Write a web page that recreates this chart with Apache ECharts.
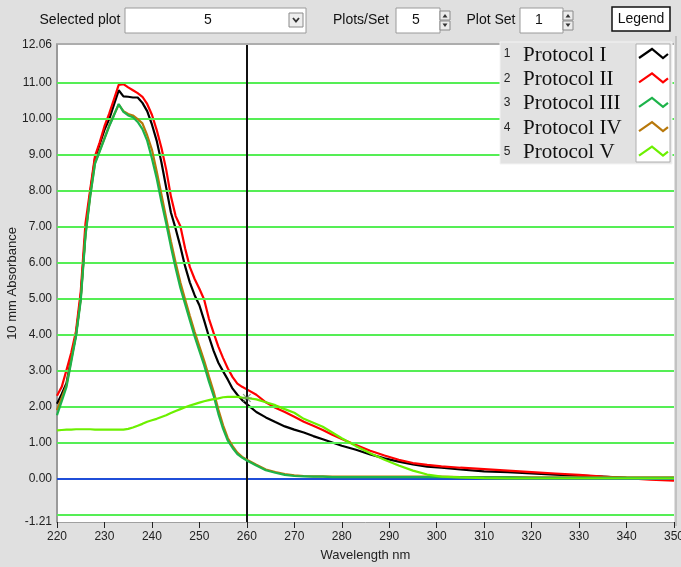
<!DOCTYPE html>
<html><head><meta charset="utf-8">
<script src="https://cdn.jsdelivr.net/npm/echarts@6/dist/echarts.min.js"></script>
<style>html,body{margin:0;padding:0;background:#e0e0e0}#c{width:681px;height:567px}</style>
</head><body><div id="c"></div>
<script>
// ---------- data ----------
const wavelengths = [220,221,222,223,224,225,226,227,228,229,
  230,231,232,233,234,235,236,237,238,239,
  240,241,242,243,244,245,246,247,248,249,
  250,251,252,253,254,255,256,257,258,259,
  260,262,264,266,268,270,272,274,276,278,
  280,283,286,289,292,295,298,301,305,310,
  315,320,325,330,335,340,345,350];

const protocolI = [2.08,2.35,2.65,3.35,4.00,5.05,6.85,7.95,8.90,9.30,
  9.70,10.00,10.40,10.80,10.63,10.62,10.60,10.60,10.45,10.22,
  9.85,9.40,8.80,8.10,7.40,6.95,6.45,5.90,5.45,5.10,
  4.82,4.40,3.95,3.55,3.22,2.98,2.75,2.50,2.33,2.18,
  2.07,1.85,1.70,1.57,1.45,1.36,1.28,1.18,1.09,1.00,
  0.91,0.80,0.67,0.56,0.47,0.39,0.33,0.30,0.25,0.20,
  0.18,0.14,0.11,0.08,0.05,0.02,0.00,-0.04];

const protocolII = [2.30,2.55,3.02,3.50,4.10,5.20,7.10,8.04,8.97,9.35,
  9.80,10.15,10.55,10.95,10.97,10.88,10.80,10.72,10.62,10.42,
  10.12,9.70,9.20,8.60,7.85,7.30,7.02,6.40,5.88,5.55,
  5.28,4.98,4.45,4.05,3.67,3.35,3.06,2.82,2.64,2.55,
  2.48,2.33,2.12,1.97,1.85,1.72,1.58,1.47,1.35,1.22,
  1.10,0.93,0.77,0.64,0.52,0.43,0.38,0.34,0.30,0.26,
  0.22,0.18,0.14,0.10,0.05,0.01,-0.03,-0.06];

const protocolIII = [1.76,2.15,2.55,3.25,3.95,4.95,6.75,7.85,8.75,9.10,
  9.45,9.80,10.10,10.42,10.20,10.10,10.05,9.92,9.72,9.40,
  8.90,8.35,7.70,7.10,6.45,5.85,5.30,4.85,4.40,3.95,
  3.55,3.15,2.70,2.30,1.80,1.38,1.05,0.85,0.68,0.58,
  0.50,0.36,0.23,0.16,0.10,0.07,0.06,0.05,0.05,0.04,
  0.04,0.04,0.04,0.04,0.04,0.04,0.04,0.04,0.03,0.03,
  0.03,0.02,0.02,0.02,0.02,0.02,0.02,0.02];

const protocolIV = [1.90,2.25,2.60,3.30,4.00,5.00,6.80,7.88,8.78,9.12,
  9.47,9.82,10.12,10.40,10.22,10.14,10.10,10.00,9.88,9.55,
  9.15,8.55,7.90,7.25,6.60,6.00,5.45,4.98,4.52,4.08,
  3.68,3.28,2.84,2.42,1.92,1.48,1.12,0.90,0.72,0.60,
  0.52,0.38,0.25,0.18,0.12,0.09,0.07,0.06,0.06,0.05,
  0.05,0.05,0.05,0.05,0.05,0.05,0.05,0.05,0.04,0.04,
  0.04,0.03,0.03,0.03,0.03,0.03,0.03,0.03];

const protocolV = [1.34,1.35,1.36,1.36,1.37,1.37,1.37,1.37,1.36,1.36,
  1.36,1.36,1.36,1.36,1.36,1.38,1.42,1.47,1.52,1.58,
  1.62,1.66,1.71,1.76,1.82,1.88,1.93,1.98,2.03,2.07,
  2.11,2.15,2.18,2.21,2.23,2.26,2.27,2.27,2.27,2.25,
  2.24,2.20,2.12,2.04,1.93,1.83,1.66,1.55,1.44,1.28,
  1.12,0.90,0.70,0.52,0.36,0.22,0.11,0.05,0.03,0.01,
  0.00,0.00,0.00,0.00,0.00,0.00,0.00,0.00];

const seriesNames = ['Protocol I','Protocol II','Protocol III','Protocol IV','Protocol V'];
const seriesValues = [protocolI, protocolII, protocolIII, protocolIV, protocolV];
const seriesColors = ['#000000','#ff0000','#1db34a','#b8780a','#6cf000'];
const yTickValues = [-1.21,0,1,2,3,4,5,6,7,8,9,10,11,12.06];
const gridValues = [-1,1,2,3,4,5,6,7,8,9,10,11];
const yMin = -1.21, yMax = 12.06;
const xMin = 220, xMax = 350, xStep = 10;
const markerWavelength = 260;
const cursorPoint = [260, 2.24];

// ---------- chart ----------
const chart = echarts.init(document.getElementById('c'), null, {renderer:'canvas'});
const font = 'Liberation Sans, Arial, sans-serif';

const lineSeries = seriesNames.map((n,i)=>({
  name:n, type:'line', showSymbol:false, silent:true, animation:false,
  z: [3,4,6,5,7][i],
  lineStyle:{color:seriesColors[i], width:2.2},
  itemStyle:{color:seriesColors[i]},
  data: wavelengths.map((w,k)=>[w, seriesValues[i][k]])
}));

// legend drawn as graphic
const legendTop = 42, rowH = 24.4, firstRow = 54;
const legendEls = [
  {type:'rect', shape:{x:500,y:legendTop,width:172,height:122}, style:{fill:'#e2e2e2',stroke:'#f4f4f4',lineWidth:1}, z:100},
  {type:'rect', shape:{x:636,y:legendTop+2,width:34,height:118}, style:{fill:'#ffffff',stroke:'#b0b0b0',lineWidth:1}, z:101}
];
seriesNames.forEach((n,i)=>{
  const cy = firstRow + i*rowH;
  legendEls.push({type:'text', x:507, y:cy, style:{text:String(i+1), fill:'#222', font:'12px '+font, align:'center', verticalAlign:'middle'}, z:102});
  legendEls.push({type:'text', x:523, y:cy+1, style:{text:n, fill:'#111', font:'21px "Liberation Serif", "Times New Roman", serif', align:'left', verticalAlign:'middle'}, z:102});
  legendEls.push({type:'polyline', shape:{points:[[639,cy+4],[652,cy-5],[663,cy+4],[668,cy]]}, style:{stroke:seriesColors[i], lineWidth:2.2, fill:null}, z:102});
});

// toolbar
function spinner(x,y){
  return [
    {type:'rect', shape:{x:x,y:y,width:10,height:9}, style:{fill:'#ececec',stroke:'#8a8a8a',lineWidth:1}, z:100},
    {type:'polygon', shape:{points:[[x+2.5,y+6.5],[x+5,y+3],[x+7.5,y+6.5]]}, style:{fill:'#333'}, z:101},
    {type:'rect', shape:{x:x,y:y+10,width:10,height:9}, style:{fill:'#ececec',stroke:'#8a8a8a',lineWidth:1}, z:100},
    {type:'polygon', shape:{points:[[x+2.5,y+12.5],[x+5,y+16],[x+7.5,y+12.5]]}, style:{fill:'#333'}, z:101}
  ];
}
const tbFont = '14px '+font;
const toolbar = [
  {type:'text', x:80, y:20, style:{text:'Selected plot', fill:'#111', font:tbFont, align:'center', verticalAlign:'middle'}},
  {type:'rect', shape:{x:125,y:8,width:181,height:25}, style:{fill:'#fff',stroke:'#9a9a9a',lineWidth:1}},
  {type:'text', x:208, y:20, style:{text:'5', fill:'#111', font:tbFont, align:'center', verticalAlign:'middle'}},
  {type:'rect', shape:{x:289,y:13,width:14,height:14}, style:{fill:'#eeeeee',stroke:'#8a8a8a',lineWidth:1}},
  {type:'polyline', shape:{points:[[293,18],[296,21.5],[299,18]]}, style:{stroke:'#333',lineWidth:1.8,fill:null}},
  {type:'text', x:361, y:20, style:{text:'Plots/Set', fill:'#111', font:tbFont, align:'center', verticalAlign:'middle'}},
  {type:'rect', shape:{x:396,y:8,width:44,height:25}, style:{fill:'#fff',stroke:'#9a9a9a',lineWidth:1}},
  {type:'text', x:416, y:20, style:{text:'5', fill:'#111', font:tbFont, align:'center', verticalAlign:'middle'}},
  ...spinner(440,11),
  {type:'text', x:491, y:20, style:{text:'Plot Set', fill:'#111', font:tbFont, align:'center', verticalAlign:'middle'}},
  {type:'rect', shape:{x:520,y:8,width:43,height:25}, style:{fill:'#fff',stroke:'#9a9a9a',lineWidth:1}},
  {type:'text', x:539, y:20, style:{text:'1', fill:'#111', font:tbFont, align:'center', verticalAlign:'middle'}},
  ...spinner(563,11),
  {type:'rect', shape:{x:612,y:7,width:58,height:24}, style:{fill:'#fff',stroke:'#111',lineWidth:1.5}},
  {type:'text', x:641, y:19, style:{text:'Legend', fill:'#111', font:tbFont, align:'center', verticalAlign:'middle'}},
  // frame lines
  {type:'line', shape:{x1:56,y1:44,x2:674,y2:44}, style:{stroke:'#9c9c9c',lineWidth:1.5}},
  {type:'line', shape:{x1:676,y1:36,x2:676,y2:526}, style:{stroke:'#b8b8b8',lineWidth:1.5}}
];

const option = {
  backgroundColor:'#e0e0e0',
  animation:false,
  grid:{left:57, right:7, top:45, bottom:45, show:true, backgroundColor:'#ffffff', borderWidth:0,
    containLabel:false, outerBoundsMode:'none'},
  xAxis:{
    type:'value', min:xMin, max:xMax, interval:xStep,
    name:'Wavelength nm', nameLocation:'middle', nameGap:27, nameMoveOverlap:false,
    nameTextStyle:{color:'#222', fontFamily:font, fontSize:13},
    axisLine:{show:true, onZero:false, lineStyle:{color:'#a0a0a0', width:1}},
    axisTick:{show:true, inside:false, length:6, lineStyle:{color:'#222'}},
    axisLabel:{color:'#222', fontFamily:font, fontSize:12, margin:9},
    splitLine:{show:false}
  },
  yAxis:{
    type:'value', min:yMin, max:yMax,
    name:'10 mm Absorbance', nameLocation:'middle', nameGap:38, nameRotate:90, nameMoveOverlap:false,
    nameTextStyle:{color:'#222', fontFamily:font, fontSize:13},
    axisLine:{show:true, onZero:false, lineStyle:{color:'#9a9a9a', width:2}},
    axisTick:{show:false},
    axisLabel:{color:'#222', fontFamily:font, fontSize:12, margin:5,
      customValues:yTickValues, formatter:v=>Number(v).toFixed(2)},
    splitLine:{show:false}
  },
  series:[
    {type:'line', data:[], z:1, silent:true,
      markLine:{silent:true, symbol:'none', label:{show:false}, animation:false,
        lineStyle:{color:'#55ee55', width:2, type:'solid'},
        data: gridValues.map(v=>({yAxis:v}))}},
    {type:'line', data:[], z:2, silent:true,
      markLine:{silent:true, symbol:'none', label:{show:false}, animation:false,
        lineStyle:{color:'#1f4ed8', width:2, type:'solid'},
        data:[{yAxis:0}]}},
    ...lineSeries,
    {type:'line', data:[], z:10, silent:true,
      markLine:{silent:true, symbol:'none', label:{show:false}, animation:false,
        lineStyle:{color:'#111', width:2, type:'solid'},
        data:[{xAxis:markerWavelength}]}},
    {type:'scatter', z:11, silent:true, data:[cursorPoint], symbol:'path://M0,4H3M5,4H8M1,1L7,7M7,1L1,7', symbolSize:[10,8],
      itemStyle:{color:'none', borderColor:'#6a8a6a', borderWidth:1.2}}
  ],
  graphic:[...toolbar, ...legendEls]
};
chart.setOption(option);
</script>
</body></html>
